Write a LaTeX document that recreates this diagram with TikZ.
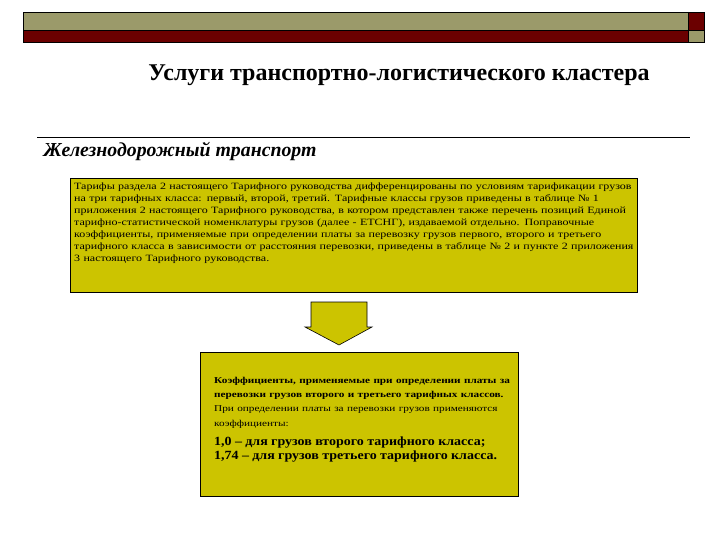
\documentclass[tikz,border=0pt]{standalone}
\usepackage{fontspec}
\setmainfont{Liberation Serif}
\newfontfamily\wide[FakeStretch=1.25]{Liberation Serif}
\newfontfamily\widebig[FakeStretch=1.12]{Liberation Serif}
\definecolor{olivebar}{HTML}{9B9A6A}
\definecolor{darkred}{HTML}{6B0000}
\definecolor{boxfill}{HTML}{CCC400}
\tikzset{panel/.style={draw=black,fill=boxfill,line width=0.8pt}}
\begin{document}
\begin{tikzpicture}[x=1pt,y=-1pt]
\useasboundingbox (0,0) rectangle (720,540);
\fill[olivebar] (23,12) rectangle (688,30);
\fill[darkred] (23,30) rectangle (688,42);
\fill[darkred] (688,12) rectangle (704,30);
\fill[olivebar] (688,30) rectangle (704,42);
\draw[line width=0.6pt] (23,12) rectangle (704,42);
\draw[line width=0.6pt] (23,30) -- (704,30) (688,12) -- (688,42);
\node (title) at (399,75) {\fontsize{24}{28}\selectfont\bfseries Услуги транспортно-логистического кластера};
\coordinate (la) at (37,137);
\coordinate (lb) at (690,137);
\draw[line width=0.6pt] (la) -- (lb);
\node[anchor=west] (sub) at (40,151) {\fontsize{19.8}{22}\selectfont\bfseries\itshape Железнодорожный транспорт};
\node[panel,minimum width=567,minimum height=114,anchor=north west,inner sep=0] (b1) at (70,178) {};
\node[anchor=north west,text width=562,align=left,inner sep=0] (t1) at (74,183) {\wide\fontsize{9.6}{15}\selectfont Тарифы раздела 2 настоящего Тарифного руководства дифференцированы по условиям тарификации грузов на три тарифных класса: первый, второй, третий. Тарифные классы грузов приведены в таблице № 1 приложения 2 настоящего Тарифного руководства, в котором представлен также перечень позиций Единой тарифно-статистической номенклатуры грузов (далее - ЕТСНГ), издаваемой отдельно. Поправочные коэффициенты, применяемые при определении платы за перевозку грузов первого, второго и третьего тарифного класса в зависимости от расстояния перевозки, приведены в таблице № 2 и пункте 2 приложения 3 настоящего Тарифного руководства.};
\draw[fill=boxfill,line width=0.6pt] (311,302) -- (367,302) -- (367,327) -- (372,327) -- (339,345) -- (305,327) -- (311,327) -- cycle;
\node[panel,minimum width=318,minimum height=144,anchor=north west,inner sep=0] (b2) at (200,352) {};
\node[anchor=north west,text width=300,align=left,inner sep=0] (t2) at (214,377) {\wide\fontsize{9}{14.2}\selectfont\bfseries Коэффициенты, применяемые при определении платы за перевозки грузов второго и третьего тарифных классов.\\
\mdseries При определении платы за перевозки грузов применяются коэффициенты:\\[3pt]
\widebig\fontsize{12.5}{16.5}\selectfont\bfseries 1,0 – для грузов второго тарифного класса;\\[2pt]
1,74 – для грузов третьего тарифного класса.};
\end{tikzpicture}
\end{document}
